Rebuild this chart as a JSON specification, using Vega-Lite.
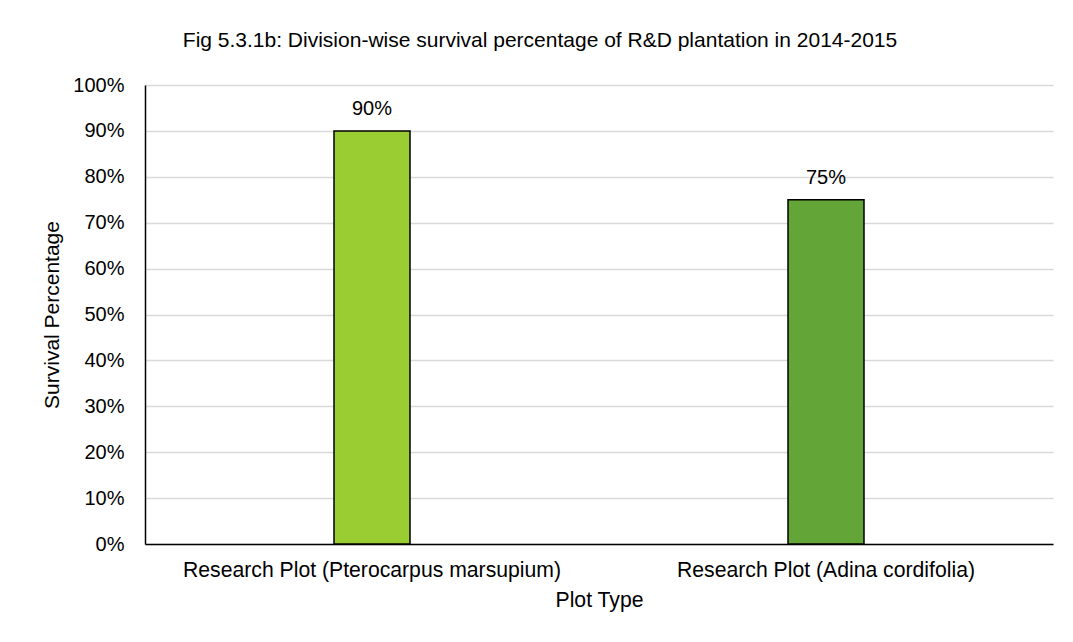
{
  "$schema": "https://vega.github.io/schema/vega-lite/v6.json",
  "width": 908,
  "height": 459,
  "autosize": {"type": "none"},
  "padding": {"left": 145, "top": 85, "right": 20, "bottom": 98},
  "background": "white",
  "title": {
    "text": "Fig 5.3.1b: Division-wise survival percentage of R&D plantation in 2014-2015",
    "font": "Liberation Sans",
    "fontSize": 21,
    "fontWeight": "normal",
    "color": "#000000",
    "anchor": "middle",
    "dx": -59,
    "offset": 24
  },
  "data": {
    "values": [
      {"plot": "Research Plot (Pterocarpus marsupium)", "survival": 0.90},
      {"plot": "Research Plot (Adina cordifolia)", "survival": 0.75}
    ]
  },
  "encoding": {
    "x": {
      "field": "plot",
      "type": "nominal",
      "sort": null,
      "title": "Plot Type",
      "axis": {
        "labelAngle": 0,
        "labelLimit": 0,
        "labelFont": "Liberation Sans",
        "labelFontSize": 21.2,
        "labelColor": "#000000",
        "titleFont": "Liberation Sans",
        "titleFontSize": 21.2,
        "titleFontWeight": "normal",
        "titleColor": "#000000",
        "domainColor": "#000000",
        "domainWidth": 1.5,
        "ticks": false,
        "labelPadding": 15,
        "titlePadding": 9
      }
    },
    "y": {
      "field": "survival",
      "type": "quantitative",
      "title": "Survival Percentage",
      "scale": {"domain": [0, 1]},
      "axis": {
        "format": ".0%",
        "values": [0, 0.1, 0.2, 0.3, 0.4, 0.5, 0.6, 0.7, 0.8, 0.9, 1],
        "labelOverlap": false,
        "labelFont": "Liberation Sans",
        "labelFontSize": 20,
        "labelColor": "#000000",
        "titleFont": "Liberation Sans",
        "titleFontSize": 21,
        "titleFontWeight": "normal",
        "titleColor": "#000000",
        "domainColor": "#000000",
        "domainWidth": 1.5,
        "ticks": false,
        "labelPadding": 21,
        "titlePadding": 10,
        "gridColor": "#d9d9d9",
        "gridWidth": 1.5
      }
    }
  },
  "layer": [
    {
      "mark": {"type": "bar", "size": 76, "stroke": "#000000", "strokeWidth": 1.5},
      "encoding": {
        "color": {
          "field": "plot",
          "type": "nominal",
          "scale": {
            "domain": ["Research Plot (Pterocarpus marsupium)", "Research Plot (Adina cordifolia)"],
            "range": ["#9ACD32", "#63A537"]
          },
          "legend": null
        }
      }
    },
    {
      "mark": {"type": "text", "baseline": "middle", "dy": -22, "font": "Liberation Sans", "fontSize": 20, "color": "#000000"},
      "encoding": {
        "text": {"field": "survival", "type": "quantitative", "format": ".0%"}
      }
    }
  ],
  "config": {
    "view": {"stroke": null}
  }
}
